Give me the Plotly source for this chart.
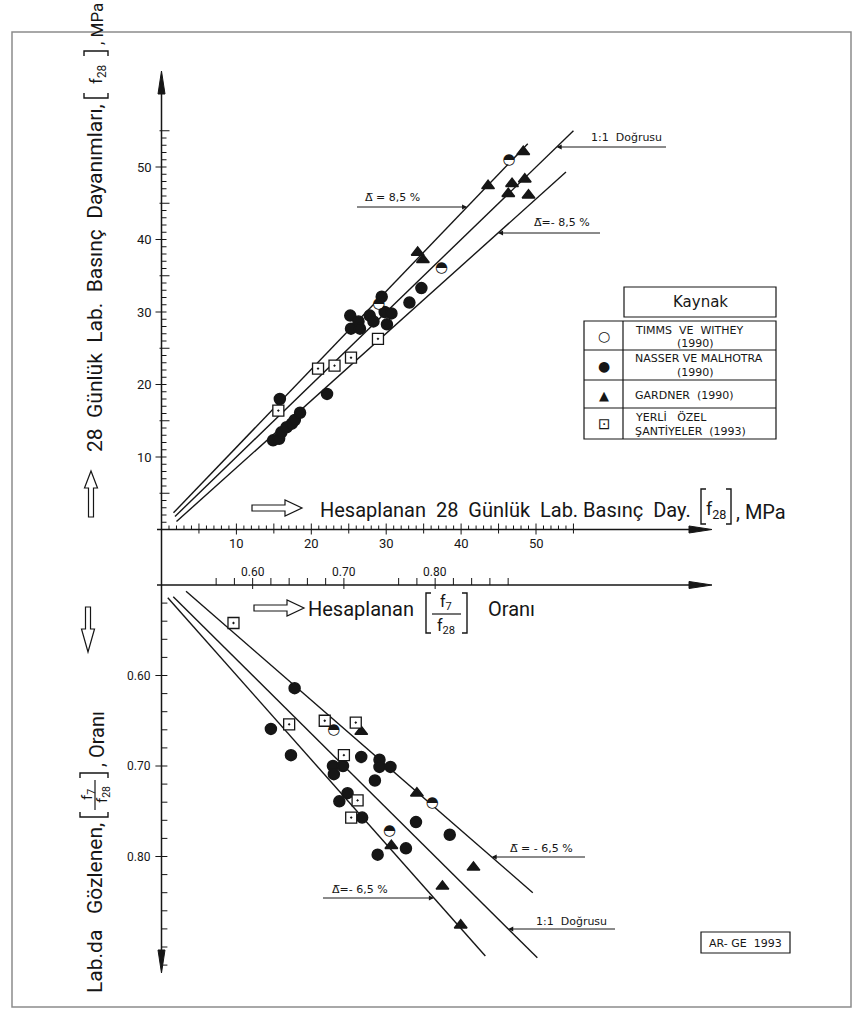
import plotly.graph_objects as go

W, H = 853, 1010

# ---------------- data ----------------
# Top panel: calculated (x) vs observed (y) 28-day lab. strength, MPa
timms_top_x = [46.4, 37.4, 29.0]
timms_top_y = [51.0, 36.0, 31.1]
nasser_top_x = [15.8, 14.9, 15.7, 16.0, 16.7, 17.4, 17.8, 18.5, 22.1, 25.2, 25.3, 26.3,
                26.5, 27.8, 28.3, 29.4, 29.8, 30.1, 30.7, 33.1, 34.7]
nasser_top_y = [18.0, 12.3, 12.5, 13.4, 14.1, 14.6, 15.1, 16.1, 18.7, 29.5, 27.7, 28.7,
                27.7, 29.5, 28.7, 32.1, 30.0, 28.3, 29.8, 31.3, 33.3]
gardner_top_x = [48.3, 43.6, 46.8, 46.3, 48.5, 49.0, 34.2, 34.9]
gardner_top_y = [52.1, 47.4, 47.7, 46.3, 48.3, 46.1, 38.2, 37.2]
yerli_top_x = [15.6, 20.9, 23.1, 25.3, 28.9]
yerli_top_y = [16.4, 22.2, 22.6, 23.7, 26.3]

# Top panel reference lines (end points)
top_line_11_x = [1.8, 55.0]
top_line_11_y = [1.8, 55.0]
top_line_plus_x = [1.6, 48.9]
top_line_plus_y = [2.3, 53.2]
top_line_minus_x = [2.0, 54.0]
top_line_minus_y = [1.1, 49.3]

# Bottom panel: calculated (x) vs observed (y) f7/f28 ratio
timms_bot_x = [0.689, 0.797, 0.750]
timms_bot_y = [0.661, 0.741, 0.772]
nasser_bot_x = [0.646, 0.620, 0.642, 0.719, 0.739, 0.739, 0.751, 0.688, 0.699, 0.689,
                0.734, 0.704, 0.695, 0.720, 0.779, 0.816, 0.768, 0.737]
nasser_bot_y = [0.614, 0.659, 0.688, 0.690, 0.693, 0.701, 0.701, 0.700, 0.700, 0.709,
                0.716, 0.730, 0.739, 0.757, 0.762, 0.776, 0.791, 0.798]
gardner_bot_x = [0.719, 0.780, 0.752, 0.842, 0.808, 0.828]
gardner_bot_y = [0.662, 0.730, 0.788, 0.812, 0.833, 0.876]
yerli_bot_x = [0.579, 0.640, 0.679, 0.713, 0.700, 0.715, 0.708]
yerli_bot_y = [0.542, 0.654, 0.650, 0.652, 0.688, 0.738, 0.757]

bot_line_11_x = [0.513, 0.912]
bot_line_11_y = [0.513, 0.912]
bot_line_minus_x = [0.507, 0.855]
bot_line_minus_y = [0.514, 0.910]
bot_line_plus_x = [0.527, 0.907]
bot_line_plus_y = [0.507, 0.840]

# ticks
top_ticks = list(range(1, 56))
top_tick_labels = [10, 20, 30, 40, 50]
bot_y_ticks = [0.52, 0.54, 0.56, 0.58, 0.60, 0.62, 0.64, 0.66, 0.68, 0.70, 0.72, 0.74,
               0.76, 0.78, 0.80, 0.82, 0.84, 0.86, 0.88, 0.90, 0.92]
bot_x_ticks = [0.56, 0.58, 0.60, 0.62, 0.64, 0.66, 0.68, 0.70, 0.76, 0.78, 0.80, 0.82,
               0.84, 0.86, 0.88]
bot_tick_labels = [0.60, 0.70, 0.80]

# ---------------- geometry of the sheet ----------------
TX0, TSX = 161.5, 7.49     # px of x=0, px per MPa (top)
TY0, TSY = 529.5, 7.25
BX0, BSX = 161.4, 912.5    # px of x=0.5, px per unit (bottom)
BY0, BSY = 585.0, 905.0

INK = "#161616"
FT = "Roboto"
FS = "DejaVu Sans"
NB = "\u00a0"


def px(x):
    return x / W


def py(y):
    return 1 - y / H


fig = go.Figure()


def seg(xs, ys, xa, ya, width=1.2):
    fig.add_trace(go.Scatter(x=xs, y=ys, mode="lines", line=dict(color=INK, width=width),
                             hoverinfo="skip", showlegend=False, xaxis=xa, yaxis=ya))


def pts(xs, ys, xa, ya, symbol, size, fill=INK, lw=1.5):
    fig.add_trace(go.Scatter(
        x=xs, y=ys, mode="markers", xaxis=xa, yaxis=ya, showlegend=False, hoverinfo="skip",
        marker=dict(symbol=symbol, size=size, color=fill, line=dict(color=INK, width=lw))))


def half_circles(xs, ys, xa, ya):
    pts(xs, ys, xa, ya, "circle", 10, fill="white", lw=0)
    fig.add_trace(go.Scatter(
        x=xs, y=ys, mode="text", text=["◓"] * len(xs), textposition="middle center",
        textfont=dict(family=FS, size=15, color=INK), xaxis=xa, yaxis=ya,
        showlegend=False, hoverinfo="skip"))


# reference lines
seg(top_line_11_x, top_line_11_y, "x", "y", 1.4)
seg(top_line_plus_x, top_line_plus_y, "x", "y", 1.4)
seg(top_line_minus_x, top_line_minus_y, "x", "y", 1.4)
seg(bot_line_11_x, bot_line_11_y, "x2", "y2", 1.4)
seg(bot_line_minus_x, bot_line_minus_y, "x2", "y2", 1.4)
seg(bot_line_plus_x, bot_line_plus_y, "x2", "y2", 1.4)

# ticks (top y)
xs, ys = [], []
for v in top_ticks:
    a, b = (-6, 5) if v % 10 == 0 else ((-2, 8) if v % 5 == 0 else (0, 5))
    xs += [a / TSX, b / TSX, None]
    ys += [v, v, None]
seg(xs, ys, "x", "y", 1)
# ticks (top x)
xs, ys = [], []
for v in top_ticks:
    a, b = (-5, 6) if v % 10 == 0 else ((-4, 6) if v % 5 == 0 else (0, 4))
    xs += [v, v, None]
    ys += [a / TSY, b / TSY, None]
seg(xs, ys, "x", "y", 1)
# ticks (bottom y)
xs, ys = [], []
for v in bot_y_ticks:
    a = -6 if any(abs(v - l) < 1e-9 for l in bot_tick_labels) else 0
    xs += [0.5 + a / BSX, 0.5 + 6 / BSX, None]
    ys += [v, v, None]
seg(xs, ys, "x2", "y2", 1)
# ticks (bottom x)
xs, ys = [], []
for v in bot_x_ticks:
    a = 4 if any(abs(v - l) < 1e-9 for l in bot_tick_labels) else 0
    xs += [v, v, None]
    ys += [0.5 + a / BSY, 0.5 - 7 / BSY, None]
seg(xs, ys, "x2", "y2", 1)

# data markers
pts(nasser_top_x, nasser_top_y, "x", "y", "circle", 11)
pts(gardner_top_x, gardner_top_y, "x", "y", "triangle-up", 11)
pts(yerli_top_x, yerli_top_y, "x", "y", "square-dot", 11, fill="white", lw=1.3)
half_circles(timms_top_x, timms_top_y, "x", "y")
pts(nasser_bot_x, nasser_bot_y, "x2", "y2", "circle", 11)
pts(gardner_bot_x, gardner_bot_y, "x2", "y2", "triangle-up", 11)
pts(yerli_bot_x, yerli_bot_y, "x2", "y2", "square-dot", 11, fill="white", lw=1.3)
half_circles(timms_bot_x, timms_bot_y, "x2", "y2")

shapes = []


def line_px(x0, y0, x1, y1, w=1.3, color=INK):
    shapes.append(dict(type="line", xref="paper", yref="paper", x0=px(x0), y0=py(y0),
                       x1=px(x1), y1=py(y1), line=dict(color=color, width=w)))


def poly_px(points, fill=INK, w=1.0, color=INK):
    p = "M " + " L ".join(f"{px(a):.5f},{py(b):.5f}" for a, b in points) + " Z"
    shapes.append(dict(type="path", xref="paper", yref="paper", path=p,
                       fillcolor=fill, line=dict(color=color, width=w)))


def rect_px(x0, y0, x1, y1, w=1.2, color=INK):
    shapes.append(dict(type="rect", xref="paper", yref="paper", x0=px(x0), y0=py(y0),
                       x1=px(x1), y1=py(y1), line=dict(color=color, width=w)))


# frame
rect_px(12, 32, 851, 1007, w=1.5, color="#8c8c8c")

# axes with arrow heads
line_px(TX0, 85, TX0, 960, w=1.5)
line_px(157, TY0, 695, TY0, w=1.5)
line_px(157, BY0, 695, BY0, w=1.5)
poly_px([(TX0, 71), (TX0 - 3.5, 94), (TX0 + 3.5, 94)])
poly_px([(TX0, 973), (TX0 - 3.5, 950), (TX0 + 3.5, 950)])
poly_px([(712, TY0), (689, TY0 - 3.5), (689, TY0 + 3.5)])
poly_px([(712, BY0), (689, BY0 - 3.5), (689, BY0 + 3.5)])


# hollow arrows
def hollow_right(x0, yc):
    poly_px([(x0, yc - 3), (x0 + 33, yc - 3), (x0 + 33, yc - 8), (x0 + 50, yc),
             (x0 + 33, yc + 8), (x0 + 33, yc + 3), (x0, yc + 3)], fill="white", w=1.2)


hollow_right(252, 508)
hollow_right(254, 608)
# up arrow (top left)
xc = 91
poly_px([(xc - 2.5, 517), (xc - 2.5, 488), (xc - 6.5, 488), (xc, 471), (xc + 6.5, 488),
         (xc + 2.5, 488), (xc + 2.5, 517)], fill="white", w=1.2)
# down arrow (bottom left)
xc = 88
poly_px([(xc - 2.5, 607), (xc - 2.5, 629), (xc - 6.5, 629), (xc, 652), (xc + 6.5, 629),
         (xc + 2.5, 629), (xc + 2.5, 607)], fill="white", w=1.2)


# brackets
def vbracket(x, y0, y1, d):
    p = (f"M {px(x + d):.5f},{py(y0):.5f} L {px(x):.5f},{py(y0):.5f} "
         f"L {px(x):.5f},{py(y1):.5f} L {px(x + d):.5f},{py(y1):.5f}")
    shapes.append(dict(type="path", xref="paper", yref="paper", path=p, line=dict(color=INK, width=1.4)))


def hbracket(y, x0, x1, d):
    p = (f"M {px(x0):.5f},{py(y + d):.5f} L {px(x0):.5f},{py(y):.5f} "
         f"L {px(x1):.5f},{py(y):.5f} L {px(x1):.5f},{py(y + d):.5f}")
    shapes.append(dict(type="path", xref="paper", yref="paper", path=p, line=dict(color=INK, width=1.4)))


vbracket(701, 489, 524, 5)
vbracket(731, 489, 524, -5)
vbracket(426, 593, 633, 5)
vbracket(467, 593, 633, -5)
line_px(432, 614, 461, 614, w=1.2)
hbracket(98, 84, 108, -5)
hbracket(51, 84, 108, 5)
hbracket(817, 80, 108, -5)
hbracket(773, 80, 108, 5)
line_px(95, 780, 95, 810, w=1.2)

# legend table
rect_px(624, 287, 776, 317)
rect_px(584, 321, 776, 439)
line_px(623, 321, 623, 439, w=1.2)
for yy in (350, 380, 408):
    line_px(584, yy, 776, yy, w=1.2)
# AR-GE box
rect_px(701, 932, 790, 953, w=1.2)

ann = []


def text(x, y, s, size=12, font=FS, xanchor="center", yanchor="middle", angle=0):
    ann.append(dict(x=px(x), y=py(y), xref="paper", yref="paper", text=s, showarrow=False,
                    xanchor=xanchor, yanchor=yanchor, textangle=angle,
                    font=dict(family=font, size=size, color=INK)))


# tick labels
for v in top_tick_labels:
    ann.append(dict(x=-8 / TSX, y=v, xref="x", yref="y", text=str(v), showarrow=False,
                    xanchor="right", yanchor="middle", font=dict(family=FT, size=13, color=INK)))
    ann.append(dict(x=v, y=-14 / TSY, xref="x", yref="y", text=str(v), showarrow=False,
                    xanchor="center", yanchor="middle", font=dict(family=FT, size=13, color=INK)))
for v in bot_tick_labels:
    ann.append(dict(x=0.5 - 8 / BSX, y=v, xref="x2", yref="y2", text=f"{v:.2f}", showarrow=False,
                    xanchor="right", yanchor="middle", font=dict(family=FT, size=12, color=INK)))
    ann.append(dict(x=v, y=0.5 - 13 / BSY, xref="x2", yref="y2", text=f"{v:.2f}", showarrow=False,
                    xanchor="center", yanchor="middle", font=dict(family=FT, size=12, color=INK)))

# axis titles
text(693, 510, f"Hesaplanan {NB}28 {NB}Günlük {NB}Lab. Basınç {NB}Day.", 20, FT, xanchor="right")
text(716, 510, "f<sub>28</sub>", 18, FT)
text(734, 512, ", MPa", 20, FT, xanchor="left")
text(306, 609, "Hesaplanan", 20, FT, xanchor="left")
text(446, 602, "f<sub>7</sub>", 16, FT)
text(446, 626, "f<sub>28</sub>", 16, FT)
text(486, 609, "Oranı", 20, FT, xanchor="left")

text(95, 102, f"28 {NB}Günlük {NB}Lab. {NB}Basınç {NB}Dayanımları,", 21, FT, yanchor="top", angle=-90)
text(98, 74, "f<sub>28</sub>", 17, FT, angle=-90)
text(97, 47, ", MPa", 17, FT, yanchor="bottom", angle=-90)

text(95, 821, f"Lab.da {NB}{NB}Gözlenen,", 21, FT, yanchor="top", angle=-90)
text(88, 795, "f<sub>7</sub>", 15, FT, angle=-90)
text(103, 795, "f<sub>28</sub>", 15, FT, angle=-90)
text(97, 769, ", Oranı", 20, FT, yanchor="bottom", angle=-90)

# legend text
text(700, 302, "Kaynak", 15, FS)
text(604, 336, "○", 14, FS)
text(604, 366, "●", 14, FS)
text(604, 395, "▲", 13, FS)
text(604, 424, "⊡", 15, FS)
text(633, 330, f"TIMMS {NB}VE {NB}WITHEY", 11, FS, xanchor="left")
text(695, 343, "(1990)", 11, FS)
text(633, 358, "NASSER VE MALHOTRA", 11, FS, xanchor="left")
text(695, 372, "(1990)", 11, FS)
text(633, 395, f"GARDNER {NB}(1990)", 11, FS, xanchor="left")
text(633, 418, f"YERLİ {NB}{NB}ÖZEL", 11, FS, xanchor="left")
text(633, 432, f"ŞANTİYELER {NB}(1993)", 11, FS, xanchor="left")
text(745, 943, f"AR- GE {NB}1993", 11, FS)

# line labels
text(626, 137, f"1:1 {NB}Doğrusu", 11, FS)
text(392, 198, "Δ̅ = 8,5 %", 11, FS)
text(562, 223, "Δ̅=- 8,5 %", 11, FS)
text(541, 848, "Δ̅ = - 6,5 %", 11, FS)
text(360, 889, "Δ̅=- 6,5 %", 11, FS)
text(571, 921, f"1:1 {NB}Doğrusu", 11, FS)


def x_on(lx, ly, yv):
    return lx[0] + (yv - ly[0]) * (lx[1] - lx[0]) / (ly[1] - ly[0])


def arrow(xa, ya, xv, yv, tail_px):
    ann.append(dict(x=xv, y=yv, xref=xa, yref=ya, ax=tail_px, ay=0, axref="pixel", ayref="pixel",
                    text=" ", showarrow=True, arrowhead=2, arrowsize=1, arrowwidth=1,
                    arrowcolor=INK, font=dict(size=4)))


yv = (TY0 - 147) / TSY
xv = x_on(top_line_11_x, top_line_11_y, yv)
arrow("x", "y", xv, yv, 668 - (TX0 + TSX * xv))
yv = (TY0 - 207) / TSY
xv = x_on(top_line_plus_x, top_line_plus_y, yv)
arrow("x", "y", xv, yv, 355 - (TX0 + TSX * xv))
yv = (TY0 - 233) / TSY
xv = x_on(top_line_minus_x, top_line_minus_y, yv)
arrow("x", "y", xv, yv, 602 - (TX0 + TSX * xv))
yv = 0.5 + (857 - BY0) / BSY
xv = x_on(bot_line_plus_x, bot_line_plus_y, yv)
arrow("x2", "y2", xv, yv, 587 - (BX0 + BSX * (xv - 0.5)))
yv = 0.5 + (898 - BY0) / BSY
xv = x_on(bot_line_minus_x, bot_line_minus_y, yv)
arrow("x2", "y2", xv, yv, 321 - (BX0 + BSX * (xv - 0.5)))
yv = 0.5 + (929 - BY0) / BSY
xv = x_on(bot_line_11_x, bot_line_11_y, yv)
arrow("x2", "y2", xv, yv, 617 - (BX0 + BSX * (xv - 0.5)))

ax_common = dict(visible=False, domain=[0, 1], fixedrange=True)
fig.update_layout(
    width=W, height=H, margin=dict(l=0, r=0, t=0, b=0),
    paper_bgcolor="white", plot_bgcolor="rgba(0,0,0,0)",
    showlegend=False,
    xaxis=dict(range=[(0 - TX0) / TSX, (W - TX0) / TSX], anchor="y", **ax_common),
    yaxis=dict(range=[(TY0 - H) / TSY, TY0 / TSY], anchor="x", **ax_common),
    xaxis2=dict(range=[0.5 + (0 - BX0) / BSX, 0.5 + (W - BX0) / BSX], anchor="y2", **ax_common),
    yaxis2=dict(range=[0.5 + (H - BY0) / BSY, 0.5 + (0 - BY0) / BSY], anchor="x2", **ax_common),
    shapes=shapes, annotations=ann,
)
fig.write_html("out.html")
